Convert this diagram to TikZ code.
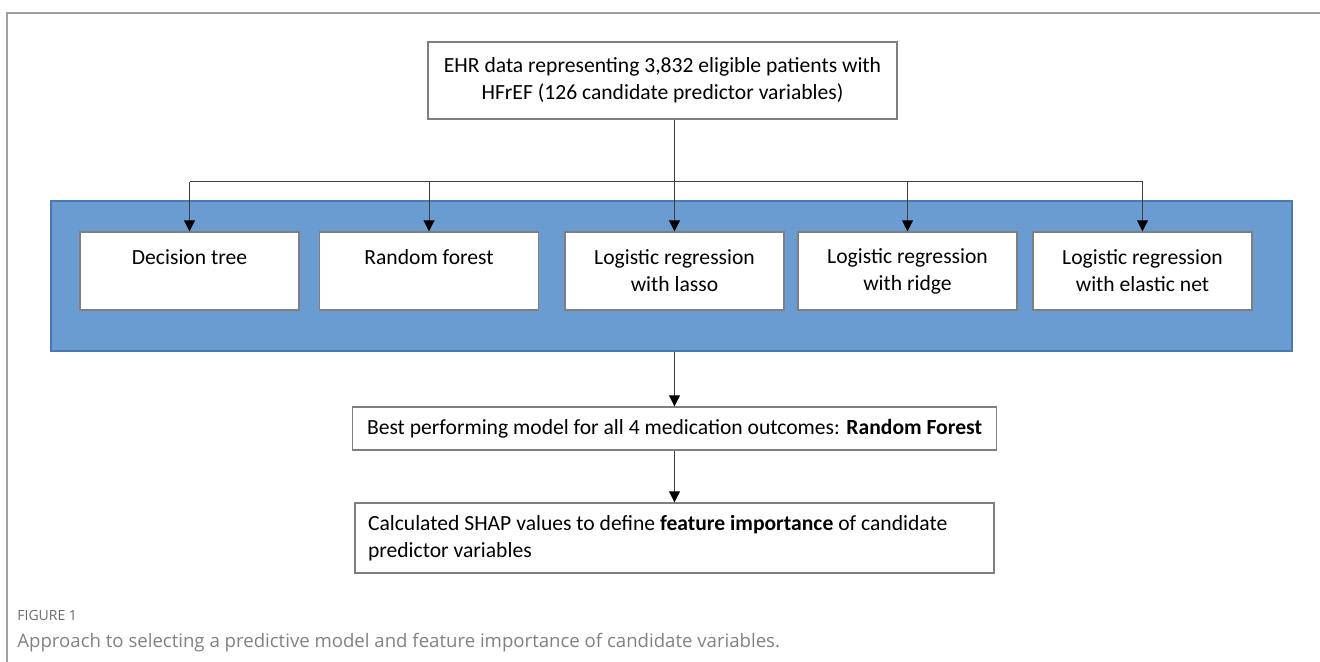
\documentclass[tikz,border=0pt]{standalone}
\usepackage{fontspec}
\setmainfont{Carlito}
\newfontfamily\captionfont{Open Sans}
\usepackage{xcolor}
\usetikzlibrary{arrows.meta}
\usetikzlibrary{positioning}

\definecolor{bandblue}{HTML}{6A9BD1}
\definecolor{bandedge}{HTML}{4A78B0}
\definecolor{boxedge}{HTML}{7F7F7F}
\definecolor{linegray}{HTML}{3F3F3F}
\definecolor{framegray}{HTML}{A0A0A0}
\definecolor{captiongray}{HTML}{6B6B6B}

\tikzset{
  box/.style={draw=boxedge, line width=0.7pt, fill=white, inner sep=0pt,
    align=center, font=\fontsize{10.8}{13.5}\selectfont},
  link/.style={draw=linegray, line width=0.5pt},
  arr/.style={link, -{Triangle[length=5.5pt, width=5.5pt, color=black]}},
}

\begin{document}
\begin{tikzpicture}[x=0.5pt, y=-0.5pt]

    \useasboundingbox (0,0) rectangle (1320,662);

    % open frame, top and left side only
    \draw [framegray, line width=0.8pt] (7,662) -- (7,13) -- (1320,13);

    \node [box, minimum width=234.5pt, minimum height=38.5pt] (ehr) at (662.5,80.5)
    {EHR data representing 3,832 eligible patients with\\
      HFrEF (126 candidate predictor variables)};

    \node [draw=bandedge, fill=bandblue, line width=0.6pt, inner sep=0pt,
      minimum width=620.5pt, minimum height=75pt] (band) at (671.5,276) {};

    \foreach \name/\xc/\txt in {
      dtree/189.5/{Decision tree\\\phantom{x}},
      rforest/429/{Random forest\\\phantom{x}},
      lasso/674.5/{Logistic regression\\with lasso},
      ridge/907.5/{Logistic regression\\with ridge},
      enet/1142.5/{Logistic regression\\with elastic net}} {
      \node [box, minimum width=109.5pt, minimum height=39pt] (\name) at (\xc,271) {\txt};
    }

    \coordinate (bus) at (0,182);
    \draw [link] (ehr.south -| lasso.north) -- (bus -| lasso.north);
    \draw [link] (bus -| dtree.north) -- (bus -| enet.north);
    \foreach \name in {dtree, rforest, lasso, ridge, enet}
      \draw [arr] (bus -| \name.north) -- (\name.north);

    \node [box, minimum width=322pt, minimum height=21.5pt] (best) at (674.5,428.5)
    {Best performing model for all 4 medication outcomes: \textbf{Random Forest}};

    \node [box, align=flush left, text width=306.5pt, inner xsep=6.5pt, minimum height=35pt]
    (shap) at (674.5,538)
    {Calculated SHAP values to define \textbf{feature importance} of candidate\\
      predictor variables};

    \draw [arr] (band.south -| best.north) -- (best.north);
    \draw [arr] (best.south) -- (best.south |- shap.north);

    % caption
    \node [anchor=west, inner sep=0pt, text=captiongray,
      font=\captionfont\fontsize{7}{8}\selectfont] (figlabel) at (17,615) {FIGURE 1};
    \node [anchor=west, inner sep=0pt, text=captiongray!85,
      font=\captionfont\fontsize{9.3}{11}\selectfont] (figcaption) at (17,643)
    {Approach to selecting a predictive model and feature importance of candidate variables.};

  \end{tikzpicture}
\end{document}
